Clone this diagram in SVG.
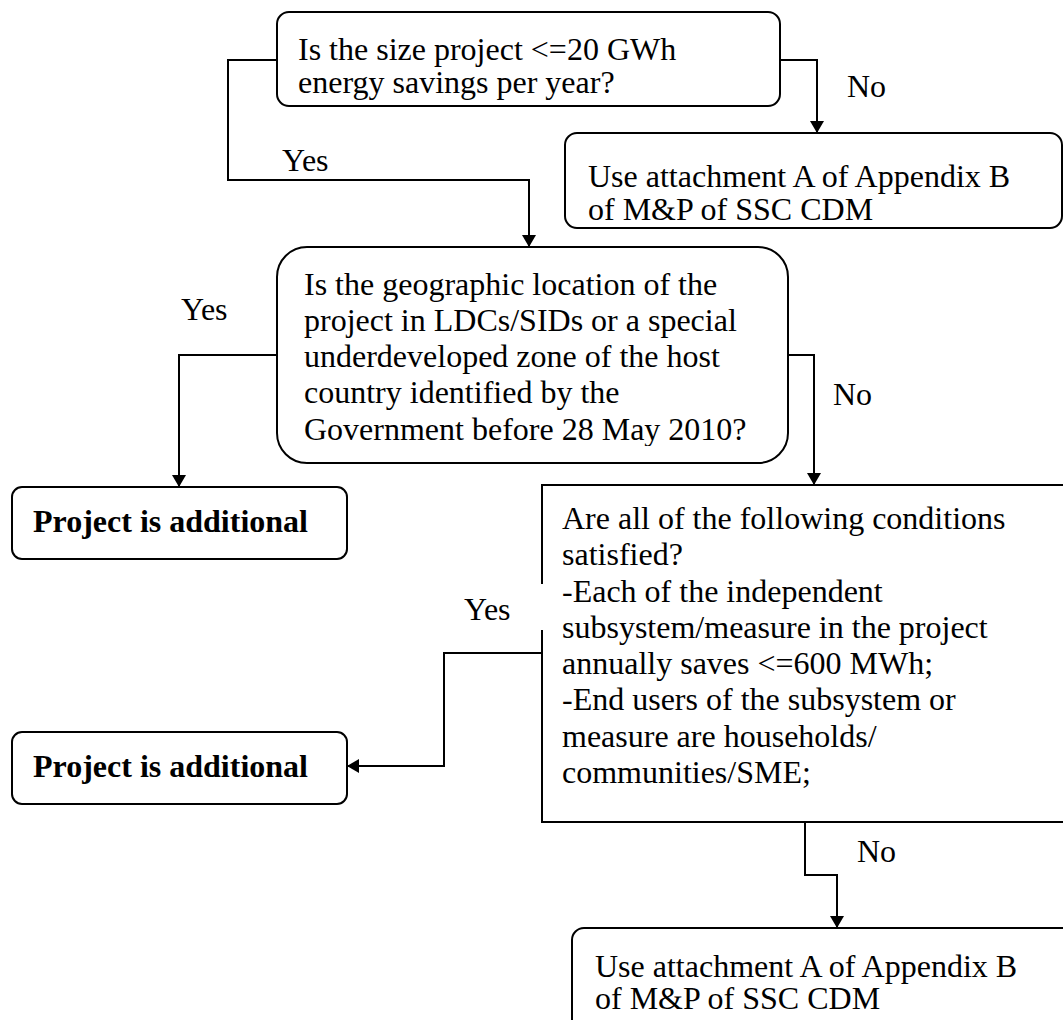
<svg xmlns="http://www.w3.org/2000/svg" width="1063" height="1020" viewBox="0 0 1063 1020">
<style>
  .box { fill: #ffffff; stroke: #000000; stroke-width: 2; }
  .t { font-family: "Liberation Serif", "Times New Roman", serif; font-size: 32px; fill: #000000; }
  .b { font-weight: bold; }
  .conn { fill: none; stroke: #000000; stroke-width: 2; }
</style>
<defs>
  <marker id="arr" viewBox="0 0 12 14" refX="12" refY="7" markerWidth="12" markerHeight="14" markerUnits="userSpaceOnUse" orient="auto">
    <path d="M0,0 L12,7 L0,14 Z" fill="#000000"/>
  </marker>
  <clipPath id="c1"><rect x="277" y="12" width="503" height="88"/></clipPath>
  <clipPath id="c2"><rect x="277" y="247" width="511" height="199"/></clipPath>
</defs>

<rect x="0" y="0" width="1063" height="1020" fill="#ffffff"/>

<g id="connectors">
  <polyline class="conn" points="277,60 228,60 228,180 529,180 529,247" marker-end="url(#arr)"/>
  <polyline class="conn" points="780,60 817,60 817,133" marker-end="url(#arr)"/>
  <polyline class="conn" points="277,355 179,355 179,487" marker-end="url(#arr)"/>
  <polyline class="conn" points="788,355 814,355 814,485" marker-end="url(#arr)"/>
  <polyline class="conn" points="542,653 444,653 444,766 347,766" marker-end="url(#arr)"/>
  <polyline class="conn" points="805,822 805,875 837,875 837,928" marker-end="url(#arr)"/>
  <text class="t" x="282" y="171">Yes</text>
  <text class="t" x="847" y="97">No</text>
  <text class="t" x="181" y="320">Yes</text>
  <text class="t" x="833" y="405">No</text>
  <text class="t" x="857" y="862">No</text>
</g>

<g id="q1">
  <rect class="box" x="277" y="12" width="503" height="94" rx="12"/>
  <g clip-path="url(#c1)">
    <text class="t" x="298" y="60">Is the size project &lt;=20 GWh</text>
    <text class="t" x="298" y="93">energy savings per year?</text>
  </g>
</g>

<g id="use1">
  <rect class="box" x="565" y="133" width="497" height="95" rx="12"/>
  <text class="t" x="588" y="187">Use attachment A of Appendix B</text>
  <text class="t" x="588" y="220">of M&amp;P of SSC CDM</text>
</g>

<g id="q2">
  <rect class="box" x="277" y="247" width="511" height="216" rx="30"/>
  <g clip-path="url(#c2)">
    <text class="t" x="304" y="295">Is the geographic location of the</text>
    <text class="t" x="304" y="331">project in LDCs/SIDs or a special</text>
    <text class="t" x="304" y="367">underdeveloped zone of the host</text>
    <text class="t" x="304" y="403">country identified by the</text>
    <text class="t" x="304" y="440">Government before 28 May 2010?</text>
  </g>
</g>

<g id="add1">
  <rect class="box" x="12" y="487" width="335" height="72" rx="10"/>
  <text class="t b" x="33" y="532">Project is additional</text>
</g>

<g id="q3">
  <rect class="box" x="542" y="485" width="530" height="337"/>
  <rect x="536" y="584" width="12" height="46" fill="#ffffff"/>
  <text class="t" x="464" y="620">Yes</text>
  <text class="t" x="562" y="529">Are all of the following conditions</text>
  <text class="t" x="562" y="565">satisfied?</text>
  <text class="t" x="562" y="602">-Each of the independent</text>
  <text class="t" x="562" y="638">subsystem/measure in the project</text>
  <text class="t" x="562" y="674">annually saves &lt;=600 MWh;</text>
  <text class="t" x="562" y="710">-End users of the subsystem or</text>
  <text class="t" x="562" y="747">measure are households/</text>
  <text class="t" x="562" y="783">communities/SME;</text>
</g>

<g id="add2">
  <rect class="box" x="12" y="732" width="335" height="72" rx="10"/>
  <text class="t b" x="33" y="777">Project is additional</text>
</g>

<g id="use2">
  <rect class="box" x="572" y="928" width="510" height="104" rx="12"/>
  <text class="t" x="595" y="977">Use attachment A of Appendix B</text>
  <text class="t" x="595" y="1009">of M&amp;P of SSC CDM</text>
</g>
</svg>
